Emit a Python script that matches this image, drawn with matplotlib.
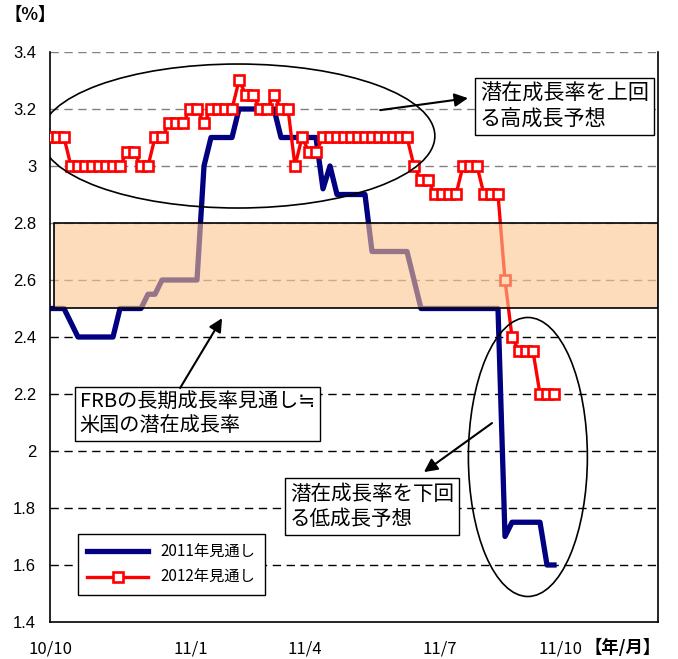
import numpy as np
import matplotlib
matplotlib.use("Agg")
import matplotlib.pyplot as plt
from matplotlib.patches import Ellipse, Rectangle

plt.rcParams['font.family'] = ['Noto Sans CJK JP', 'DejaVu Sans']

# 調査時点ごとの成長率見通し（%）
outlook_2011 = [2.5, 2.5, 2.5, 2.45, 2.4, 2.4, 2.4, 2.4, 2.4, 2.4,
                2.5, 2.5, 2.5, 2.5, 2.55, 2.55, 2.6, 2.6, 2.6, 2.6,
                2.6, 2.6, 3.0, 3.1, 3.1, 3.1, 3.1, 3.2, 3.2, 3.2,
                3.2, 3.2, 3.2, 3.1, 3.1, 3.1, 3.1, 3.1, 3.1, 2.92,
                3.0, 2.9, 2.9, 2.9, 2.9, 2.9, 2.7, 2.7, 2.7, 2.7,
                2.7, 2.7, 2.6, 2.5, 2.5, 2.5, 2.5, 2.5, 2.5, 2.5,
                2.5, 2.5, 2.5, 2.5, 2.5, 1.7, 1.75, 1.75, 1.75, 1.75,
                1.75, 1.6, 1.6]
outlook_2012 = [3.1, 3.1, 3.1, 3.0, 3.0, 3.0, 3.0, 3.0, 3.0, 3.0,
                3.0, 3.05, 3.05, 3.0, 3.0, 3.1, 3.1, 3.15, 3.15, 3.15,
                3.2, 3.2, 3.15, 3.2, 3.2, 3.2, 3.2, 3.3, 3.25, 3.25,
                3.2, 3.2, 3.25, 3.2, 3.2, 3.0, 3.1, 3.05, 3.05, 3.1,
                3.1, 3.1, 3.1, 3.1, 3.1, 3.1, 3.1, 3.1, 3.1, 3.1,
                3.1, 3.1, 3.0, 2.95, 2.95, 2.9, 2.9, 2.9, 2.9, 3.0,
                3.0, 3.0, 2.9, 2.9, 2.9, 2.6, 2.4, 2.35, 2.35, 2.35,
                2.2, 2.2, 2.2]

# 潜在成長率（FRB長期見通し）のレンジ
frb_low, frb_high = 2.5, 2.8

month_labels = ['10/10', '11/1', '11/4', '11/7', '11/10']
month_pos = [0, 20.1, 36.4, 55.7, 72.9]

fig = plt.figure(figsize=(6.78, 6.59), dpi=100)
ax = fig.add_axes([50 / 678, 37 / 659, 608 / 678, 570 / 659])

# 目盛り線（破線）
for v in np.arange(1.6, 3.41, 0.2):
    col = '#808080' if v > 2.5 else 'black'
    ax.axhline(v, color=col, lw=1.0, ls=(0, (6, 4)), zorder=1)

l1, = ax.plot(np.arange(len(outlook_2011)), outlook_2011, color='#000080',
              lw=3.8, zorder=2, label='2011年見通し')
l2, = ax.plot(np.arange(len(outlook_2012)), outlook_2012, color='red', lw=2.4,
              marker='s', ms=7.3, mfc='white', mec='red', mew=1.9, zorder=3,
              label='2012年見通し')

# 潜在成長率の帯
band_tr = ax.get_yaxis_transform()
ax.add_patch(Rectangle((0.007, frb_low), 0.993, frb_high - frb_low, transform=band_tr,
                       facecolor='#FBC58F', alpha=0.6, edgecolor='none', zorder=4))
ax.add_patch(Rectangle((0.007, frb_low), 0.993, frb_high - frb_low, transform=band_tr,
                       fill=False, edgecolor='black', lw=1.2, zorder=5))

# 楕円
ax.add_patch(Ellipse((0.309, 0.8526), 0.648, 0.2526, transform=ax.transAxes,
                     fill=False, ec='black', lw=1.2, zorder=6))
ax.add_patch(Ellipse((0.786, 0.2895), 0.1957, 0.4895, transform=ax.transAxes,
                     fill=False, ec='black', lw=1.2, zorder=6))

box = dict(boxstyle='square,pad=0.25', fc='white', ec='black', lw=1.0)
ax.text(0.707, 0.9456, '潜在成長率を上回\nる高成長予想', transform=ax.transAxes,
        ha='left', va='top', fontsize=15.2, linespacing=1.15, bbox=box, zorder=7)
ax.text(0.049, 0.4035, 'FRBの長期成長率見通し≒\n米国の潜在成長率', transform=ax.transAxes,
        ha='left', va='top', fontsize=14.5, linespacing=1.15, bbox=box, zorder=7)
ax.text(0.395, 0.2439, '潜在成長率を下回\nる低成長予想', transform=ax.transAxes,
        ha='left', va='top', fontsize=14.8, linespacing=1.15, bbox=box, zorder=7)

arrow = dict(arrowstyle='-|>', color='black', lw=1.5, mutation_scale=20,
             shrinkA=0, shrinkB=0)
ax.annotate('', xy=(0.6875, 0.919), xytext=(0.543, 0.898),
            xycoords='axes fraction', arrowprops=arrow, zorder=8)
ax.annotate('', xy=(0.283, 0.533), xytext=(0.214, 0.4105),
            xycoords='axes fraction', arrowprops=arrow, zorder=8)
ax.annotate('', xy=(0.615, 0.263), xytext=(0.727, 0.349),
            xycoords='axes fraction', arrowprops=arrow, zorder=8)

leg = ax.legend(handles=[l1, l2], loc='lower left', bbox_to_anchor=(0.046, 0.047),
                borderaxespad=0, fontsize=11, fancybox=False, framealpha=1,
                edgecolor='black', handlelength=4.0, numpoints=1,
                borderpad=0.6, labelspacing=0.55)
leg.get_frame().set_linewidth(1.0)
leg.set_zorder(9)

ax.set_xlim(0, 608 / 7)
ax.set_ylim(1.4, 3.4)
yt = np.round(np.arange(1.4, 3.41, 0.2), 1)
ax.set_yticks(yt)
ax.set_yticklabels(['%g' % v for v in yt], family=['Liberation Sans', 'DejaVu Sans'],
                   fontsize=12)
ax.set_xticks(month_pos)
ax.set_xticklabels(month_labels, fontsize=12)
ax.tick_params(axis='y', length=0, pad=10)
ax.tick_params(axis='x', length=0, pad=13)

ax.spines['top'].set_visible(False)
for s in ('left', 'right', 'bottom'):
    ax.spines[s].set_linewidth(1.2)
    ax.spines[s].set_color('black')

fig.text(5 / 678, 1 - 15 / 659, '【%】', fontsize=12.5, va='center', ha='left',
         fontweight='bold')
fig.text(585 / 678, 1 - 648 / 659, '【年/月】', fontsize=12.5, va='center', ha='left',
         fontweight='bold')

fig.savefig('out.png', dpi=100)
